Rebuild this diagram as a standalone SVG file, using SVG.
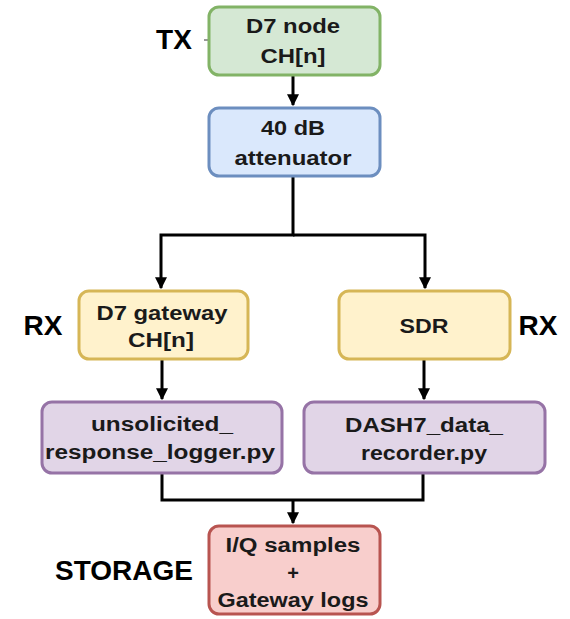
<svg xmlns="http://www.w3.org/2000/svg" width="570" height="619" viewBox="0 0 570 619">
  <defs>
    <marker id="arrow" viewBox="0 0 10 10" refX="9" refY="5" markerWidth="4" markerHeight="4" orient="auto">
      <path d="M0,0 L10,5 L0,10 z" fill="#000"/>
    </marker>
    <style>
      .box { stroke-width: 3; }
      .green { fill: #d5e8d4; stroke: #82b366; }
      .blue { fill: #dae8fc; stroke: #6c8ebf; }
      .yellow { fill: #fff2cc; stroke: #d6b656; }
      .purple { fill: #e1d5e7; stroke: #9673a6; }
      .red { fill: #f8cecc; stroke: #b85450; }
      .t { font-family: "Liberation Sans", Arial, sans-serif; font-weight: bold; font-size: 20px; fill: #1a1a1a; text-anchor: middle; }
      .lbl { font-family: "Liberation Sans", Arial, sans-serif; font-weight: bold; font-size: 28px; fill: #000; text-anchor: middle; }
      .edge { fill: none; stroke: #000; stroke-width: 3; }
    </style>
  </defs>

  <rect width="570" height="619" fill="#fff"/>

  <g id="connectors">
    <line class="edge" x1="293" y1="76" x2="293" y2="105" marker-end="url(#arrow)"/>
    <polyline class="edge" points="293,177 293,235 161,235 161,288" marker-end="url(#arrow)"/>
    <polyline class="edge" points="293,235 425,235 425,288" marker-end="url(#arrow)"/>
    <line class="edge" x1="162" y1="360" x2="162" y2="399" marker-end="url(#arrow)"/>
    <line class="edge" x1="424" y1="360" x2="424" y2="399" marker-end="url(#arrow)"/>
    <polyline class="edge" points="162,474 162,500 423,500 423,474"/>
    <line class="edge" x1="293" y1="500" x2="293" y2="523" marker-end="url(#arrow)"/>
    <line x1="204" y1="40" x2="208" y2="40" stroke="#333" stroke-width="1"/>
  </g>

  <g id="tx-node">
    <rect class="box green" x="209" y="7" width="171" height="68" rx="10"/>
    <text class="t" x="293" y="33" textLength="94" lengthAdjust="spacingAndGlyphs">D7 node</text>
    <text class="t" x="293" y="63" textLength="65" lengthAdjust="spacingAndGlyphs">CH[n]</text>
  </g>

  <g id="attenuator">
    <rect class="box blue" x="209" y="108" width="171" height="68" rx="10"/>
    <text class="t" x="293" y="135" textLength="64" lengthAdjust="spacingAndGlyphs">40 dB</text>
    <text class="t" x="293" y="165" textLength="117" lengthAdjust="spacingAndGlyphs">attenuator</text>
  </g>

  <g id="gateway">
    <rect class="box yellow" x="79" y="291" width="169" height="68" rx="10"/>
    <text class="t" x="162" y="320" textLength="131" lengthAdjust="spacingAndGlyphs">D7 gateway</text>
    <text class="t" x="161" y="347" textLength="66" lengthAdjust="spacingAndGlyphs">CH[n]</text>
  </g>

  <g id="sdr">
    <rect class="box yellow" x="339" y="291" width="171" height="68" rx="10"/>
    <text class="t" x="424" y="333" textLength="49" lengthAdjust="spacingAndGlyphs">SDR</text>
  </g>

  <g id="logger">
    <rect class="box purple" x="42" y="402" width="240" height="71" rx="10"/>
    <text class="t" x="162" y="431" textLength="142" lengthAdjust="spacingAndGlyphs">unsolicited_</text>
    <text class="t" x="160" y="459" textLength="230" lengthAdjust="spacingAndGlyphs">response_logger.py</text>
  </g>

  <g id="recorder">
    <rect class="box purple" x="304" y="402" width="241" height="71" rx="10"/>
    <text class="t" x="424" y="432" textLength="158" lengthAdjust="spacingAndGlyphs">DASH7_data_</text>
    <text class="t" x="424" y="460" textLength="126" lengthAdjust="spacingAndGlyphs">recorder.py</text>
  </g>

  <g id="storage">
    <rect class="box red" x="209" y="526" width="171" height="88" rx="10"/>
    <text class="t" x="293" y="552" textLength="135" lengthAdjust="spacingAndGlyphs">I/Q samples</text>
    <text class="t" x="293" y="580">+</text>
    <text class="t" x="293" y="607" textLength="151" lengthAdjust="spacingAndGlyphs">Gateway logs</text>
  </g>

  <g id="labels">
    <text class="lbl" x="174" y="49">TX</text>
    <text class="lbl" x="43" y="335">RX</text>
    <text class="lbl" x="538" y="335">RX</text>
    <text class="lbl" x="124" y="580">STORAGE</text>
  </g>
</svg>
